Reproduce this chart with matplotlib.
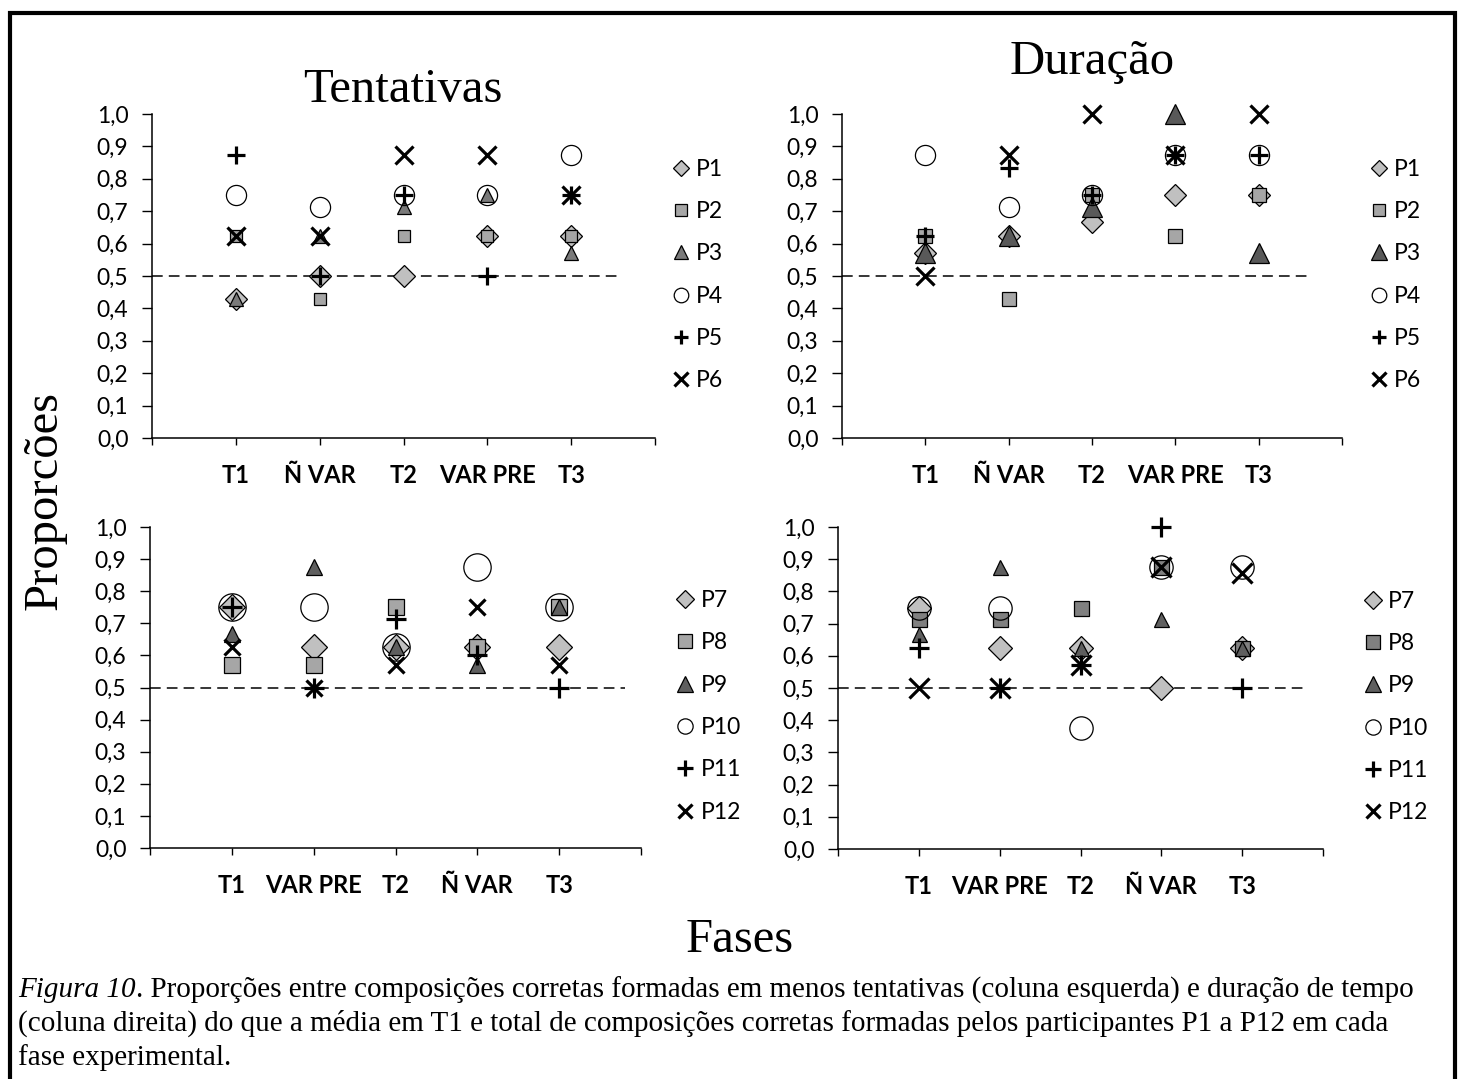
import matplotlib
matplotlib.use('Agg')
import matplotlib.pyplot as plt
from matplotlib.lines import Line2D
from matplotlib.patches import Rectangle

W, H, DPI = 1459, 1079, 100

# fases (eixo x) de cada linha de gráficos
fases_top = ['T1', 'Ñ VAR', 'T2', 'VAR PRE', 'T3']
fases_bottom = ['T1', 'VAR PRE', 'T2', 'Ñ VAR', 'T3']

yticks = [0.0, 0.1, 0.2, 0.3, 0.4, 0.5, 0.6, 0.7, 0.8, 0.9, 1.0]
ytick_labels = ['0,0', '0,1', '0,2', '0,3', '0,4', '0,5', '0,6', '0,7', '0,8', '0,9', '1,0']
criterio = 0.5

part_top = ['P1', 'P2', 'P3', 'P4', 'P5', 'P6']
part_bottom = ['P7', 'P8', 'P9', 'P10', 'P11', 'P12']

# Tentativas, P1..P6  (T1, Ñ VAR, T2, VAR PRE, T3)
tent_top = [
    [0.429, 0.500, 0.500, 0.625, 0.625],
    [0.625, 0.429, 0.625, 0.625, 0.625],
    [0.429, 0.625, 0.714, 0.750, 0.571],
    [0.750, 0.714, 0.750, 0.750, 0.875],
    [0.875, 0.500, 0.750, 0.500, 0.750],
    [0.625, 0.625, 0.875, 0.875, 0.750],
]
# Duração, P1..P6
dur_top = [
    [0.571, 0.625, 0.667, 0.750, 0.750],
    [0.625, 0.429, 0.750, 0.625, 0.750],
    [0.571, 0.625, 0.714, 1.000, 0.571],
    [0.875, 0.714, 0.750, 0.875, 0.875],
    [0.625, 0.833, 0.750, 0.875, 0.875],
    [0.500, 0.875, 1.000, 0.875, 1.000],
]
# Tentativas, P7..P12  (T1, VAR PRE, T2, Ñ VAR, T3)
tent_bottom = [
    [0.750, 0.625, 0.625, 0.625, 0.625],
    [0.571, 0.571, 0.750, 0.625, 0.750],
    [0.667, 0.875, 0.625, 0.571, 0.750],
    [0.750, 0.750, 0.625, 0.875, 0.750],
    [0.750, 0.500, 0.714, 0.600, 0.500],
    [0.625, 0.500, 0.571, 0.750, 0.571],
]
# Duração, P7..P12
dur_bottom = [
    [0.750, 0.625, 0.625, 0.500, 0.625],
    [0.714, 0.714, 0.750, 0.875, 0.625],
    [0.667, 0.875, 0.625, 0.714, 0.625],
    [0.750, 0.750, 0.375, 0.875, 0.875],
    [0.625, 0.500, 0.571, 1.000, 0.500],
    [0.500, 0.500, 0.571, 0.875, 0.857],
]

plt.rcParams['font.family'] = ['Lato', 'DejaVu Sans']
SERIF = ['Liberation Serif', 'DejaVu Serif']
TICK_FS = 16.5

markers = ['D', 's', '^', 'o', '+', 'x']


def fx(px):
    return px / W


def fy(py):
    return 1 - py / H


def draw_panel(fig, box, fases, series, labels, sizes, faces, leg_sizes, leg_anchor, dash_end):
    left, top, right, bottom = box
    ax = fig.add_axes([fx(left), fy(bottom), (right - left) / W, (bottom - top) / H])
    x = list(range(1, len(fases) + 1))

    ax.plot([0, dash_end], [criterio, criterio], color='black', lw=1.1,
            dashes=(7, 4), zorder=1)

    for vals, m, s, fc in zip(series, markers, sizes, faces):
        if m in ('+', 'x'):
            ax.plot(x, vals, ls='none', marker=m, ms=s, mec='black', mew=2.3,
                    clip_on=False, zorder=3)
        else:
            ax.plot(x, vals, ls='none', marker=m, ms=s, mfc=fc, mec='black',
                    mew=0.9, clip_on=False, zorder=3)

    ax.set_xlim(0, 6)
    ax.set_ylim(0, 1)
    ax.set_xticks(range(7))
    ax.set_xticklabels([''] + fases + [''], fontsize=TICK_FS + 0.5, fontweight='bold')
    ax.set_yticks(yticks)
    ax.set_yticklabels(ytick_labels, fontsize=TICK_FS)
    ax.tick_params(axis='y', direction='out', length=7, width=1, pad=10)
    ax.tick_params(axis='x', direction='out', length=5, width=1, pad=14)
    for side in ('top', 'right'):
        ax.spines[side].set_visible(False)
    for side in ('left', 'bottom'):
        ax.spines[side].set_linewidth(1.1)

    handles = []
    for m, s, fc in zip(markers, leg_sizes, faces):
        if m in ('+', 'x'):
            handles.append(Line2D([], [], ls='none', marker=m, ms=s, mec='black', mew=2.3))
        else:
            handles.append(Line2D([], [], ls='none', marker=m, ms=s, mfc=fc,
                                  mec='black', mew=0.9))
    ax.legend(handles, labels, loc='center left', bbox_to_anchor=leg_anchor,
              frameon=False, fontsize=TICK_FS, handlelength=0.75, handletextpad=0.3,
              labelspacing=0.93, borderaxespad=0, borderpad=0)
    return ax


fig = plt.figure(figsize=(W / DPI, H / DPI), dpi=DPI)

faces_top_l = ['#c0c0c0', '#a6a6a6', '#7a7a7a', 'none', 'none', 'none']
faces_top_r = ['#c0c0c0', '#a6a6a6', '#595959', 'none', 'none', 'none']
faces_bot_l = ['#c0c0c0', '#a6a6a6', '#5f5f5f', 'none', 'none', 'none']
faces_bot_r = ['#c0c0c0', '#808080', '#5f5f5f', 'none', 'none', 'none']

draw_panel(fig, (152, 114, 655, 438), fases_top, tent_top, part_top,
           [11.3, 8.6, 9.6, 14.5, 13.4, 13.0], faces_top_l,
           [8.5, 8.0, 10.0, 10.5, 10.5, 10.5], (1.034, 0.503), 5.6)
draw_panel(fig, (842, 114, 1342, 438), fases_top, dur_top, part_top,
           [11.3, 9.4, 13.9, 14.5, 13.4, 13.2], faces_top_r,
           [8.5, 8.5, 11.0, 10.5, 10.5, 10.5], (1.056, 0.503), 5.6)
draw_panel(fig, (150, 527, 641, 848), fases_bottom, tent_bottom, part_bottom,
           [13.2, 12.0, 12.0, 19.7, 14.0, 12.0], faces_bot_l,
           [9.5, 10.5, 11.0, 11.0, 11.0, 10.5], (1.073, 0.441), 5.8)
draw_panel(fig, (838, 527, 1323, 849), fases_bottom, dur_bottom, part_bottom,
           [11.9, 10.8, 10.8, 16.8, 14.4, 15.0], faces_bot_r,
           [9.5, 10.5, 11.0, 11.0, 11.0, 10.5], (1.085, 0.441), 5.8)

fig.text(fx(403), fy(90), 'Tentativas', family=SERIF, fontsize=35, ha='center', va='center')
fig.text(fx(1092), fy(62), 'Duração', family=SERIF, fontsize=35, ha='center', va='center')
fig.text(fx(45), fy(500), 'Proporcões', family=SERIF, fontsize=35, rotation=90,
         ha='center', va='center')
fig.text(fx(740), fy(940), 'Fases', family=SERIF, fontsize=35, ha='center', va='center')

# legenda da figura, com "Figura 10" em itálico
cap_size = 21
t = fig.text(fx(18), fy(990), 'Figura 10', family=SERIF, style='italic',
             fontsize=cap_size, va='center', ha='left')
fig.canvas.draw()
bb = t.get_window_extent(fig.canvas.get_renderer())
fig.text(bb.x1 / W, fy(990), '. Proporções entre composições corretas formadas em menos '
         'tentativas (coluna esquerda) e duração de tempo', family=SERIF,
         fontsize=cap_size, va='center', ha='left')
fig.text(fx(18), fy(1023), '(coluna direita) do que a média em T1 e total de composições '
         'corretas formadas pelos participantes P1 a P12 em cada', family=SERIF,
         fontsize=cap_size, va='center', ha='left')
fig.text(fx(18), fy(1058), 'fase experimental.', family=SERIF,
         fontsize=cap_size, va='center', ha='left')

fig.patches.append(Rectangle((fx(10), -0.05), fx(1455) - fx(10), fy(13) + 0.05,
                             transform=fig.transFigure, fill=False, lw=3,
                             edgecolor='black'))

fig.savefig('out.png', dpi=DPI)
plt.close(fig)
